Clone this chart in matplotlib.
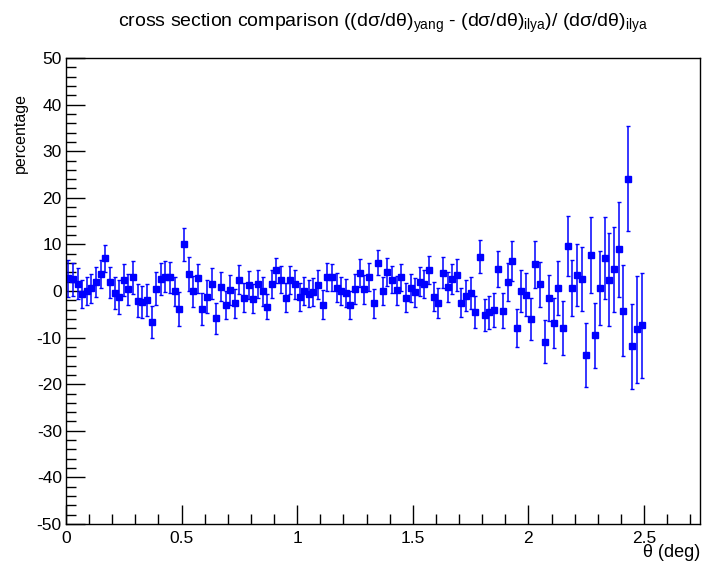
import numpy as np
import matplotlib
matplotlib.use("Agg")
import matplotlib.pyplot as plt
from matplotlib import font_manager
from matplotlib.ticker import MultipleLocator

# relative difference of the two cross sections per theta bin (percent)
diff_pct = [
    2.7, 2.5, 1.6, -0.6, -0.1, 0.6, 2.0, 3.6, 7.0, 1.9,
    -0.5, -1.3, 2.3, 0.4, 2.9, -2.1, -2.4, -1.9, -6.6, 0.5,
    2.6, 3.1, 2.9, -0.1, -3.9, 10.0, 3.7, -0.1, 2.7, -3.9,
    -1.2, 1.6, -5.9, 0.9, -3.1, 0.2, -2.6, 2.4, -1.4, 1.2,
    -1.7, 1.6, -0.1, -3.4, 1.4, 4.4, 2.4, -1.4, 2.3, 1.4,
    -1.3, 0.1, -0.6, -0.3, 1.3, -2.9, 3.1, 2.9, 0.7, 0.0,
    -0.4, -3.0, 0.5, 3.9, 0.4, 3.0, -2.6, 6.1, -0.1, 4.1,
    2.4, 0.2, 2.9, -1.4, 0.6, -0.3, 2.0, 1.4, 4.5, -1.2,
    -2.5, 3.9, 0.9, 2.6, 3.5, -2.5, -1.0, -0.4, -4.5, 7.4,
    -5.2, -4.6, -4.1, 4.7, -4.2, 1.9, 6.4, -7.9, -0.1, -0.8,
    -6.0, 5.7, 1.4, -10.9, -1.5, -6.8, 0.6, -7.9, 9.6, 0.6,
    3.4, 2.6, -13.7, 7.7, -9.5, 0.6, 7.0, 2.4, 4.7, 9.0,
    -4.2, 24.1, -11.9, -8.2, -7.4,
]
diff_err = [
    3.9, 3.6, 3.3, 3.0, 3.0, 3.1, 3.2, 3.0, 2.9, 3.3,
    3.4, 3.6, 3.4, 3.3, 3.5, 3.5, 3.4, 3.5, 3.4, 3.5,
    3.4, 3.3, 3.4, 3.2, 3.7, 3.6, 3.6, 3.3, 3.2, 3.4,
    3.5, 3.3, 3.4, 3.1, 3.0, 3.2, 3.1, 3.1, 3.2, 3.0,
    3.1, 3.0, 3.2, 2.7, 3.0, 2.7, 2.9, 3.1, 3.0, 3.1,
    3.0, 3.0, 2.9, 3.0, 3.1, 3.1, 3.0, 2.9, 3.1, 3.0,
    3.0, 3.1, 3.2, 3.0, 3.1, 3.0, 3.1, 2.7, 3.0, 3.0,
    2.9, 3.1, 3.0, 3.1, 3.0, 3.1, 3.1, 3.0, 3.0, 3.1,
    3.2, 3.3, 3.2, 3.3, 3.4, 3.1, 3.3, 3.4, 3.4, 3.6,
    3.4, 3.5, 3.6, 3.9, 3.8, 4.1, 4.3, 4.1, 4.5, 4.6,
    4.6, 5.1, 4.8, 4.6, 5.0, 5.4, 5.8, 5.8, 6.4, 6.0,
    6.6, 6.8, 6.9, 8.2, 7.0, 8.0, 8.8, 10.0, 9.1, 10.2,
    9.8, 11.3, 9.2, 11.5, 11.3,
]
bin_width = 0.02
theta = bin_width / 2 + bin_width * np.arange(len(diff_pct))

plt.rcParams["font.family"] = ["Liberation Sans", "DejaVu Sans"]
plt.rcParams["mathtext.fontset"] = "custom"
plt.rcParams["mathtext.rm"] = "Liberation Sans"

# narrow face for the y title if it is there
names = {f.name for f in font_manager.fontManager.ttflist}
narrow = "Liberation Sans Narrow" if "Liberation Sans Narrow" in names else "Liberation Sans"

fig = plt.figure(figsize=(7.06, 5.70), dpi=100)
ax = fig.add_axes([66 / 706, 46 / 570, 634 / 706, 466 / 570])

ax.errorbar(theta, diff_pct, yerr=diff_err, fmt="s", color="#0000ff",
            ms=3.8, elinewidth=1.1, capsize=1.4, capthick=1.0)

ax.set_xlim(0, 2.742)
ax.set_ylim(-50, 50)
ax.xaxis.set_major_locator(MultipleLocator(0.5))
ax.xaxis.set_minor_locator(MultipleLocator(0.1))
ax.yaxis.set_major_locator(MultipleLocator(10))
ax.yaxis.set_minor_locator(MultipleLocator(2))
ax.xaxis.set_major_formatter(plt.FuncFormatter(lambda v, p: f"{v:g}"))
ax.yaxis.set_major_formatter(plt.FuncFormatter(lambda v, p: f"{v:g}"))
ax.tick_params(axis="both", which="both", direction="in", top=False, right=False,
               labelsize=12.5, width=1.0)
ax.tick_params(axis="x", which="major", length=13.5, pad=5)
ax.tick_params(axis="x", which="minor", length=7)
ax.tick_params(axis="y", which="major", length=13.5, pad=3)
ax.tick_params(axis="y", which="minor", length=7)
for s in ax.spines.values():
    s.set_linewidth(1.0)

fig.text(383 / 706, 1 - 27 / 570,
         "cross section comparison ((dσ/dθ)$_{\\rm yang}$ - (dσ/dθ)$_{\\rm ilya}$)/ (dσ/dθ)$_{\\rm ilya}$",
         ha="center", va="baseline", fontsize=14)
fig.text(700 / 706, 1 - 557 / 570, "θ (deg)", ha="right", va="baseline", fontsize=13)
fig.text(13 / 706, 1 - 93 / 570, "percentage", rotation=90, ha="left", va="top",
         fontsize=11.5, family=narrow)

fig.savefig("out.png", dpi=100)
